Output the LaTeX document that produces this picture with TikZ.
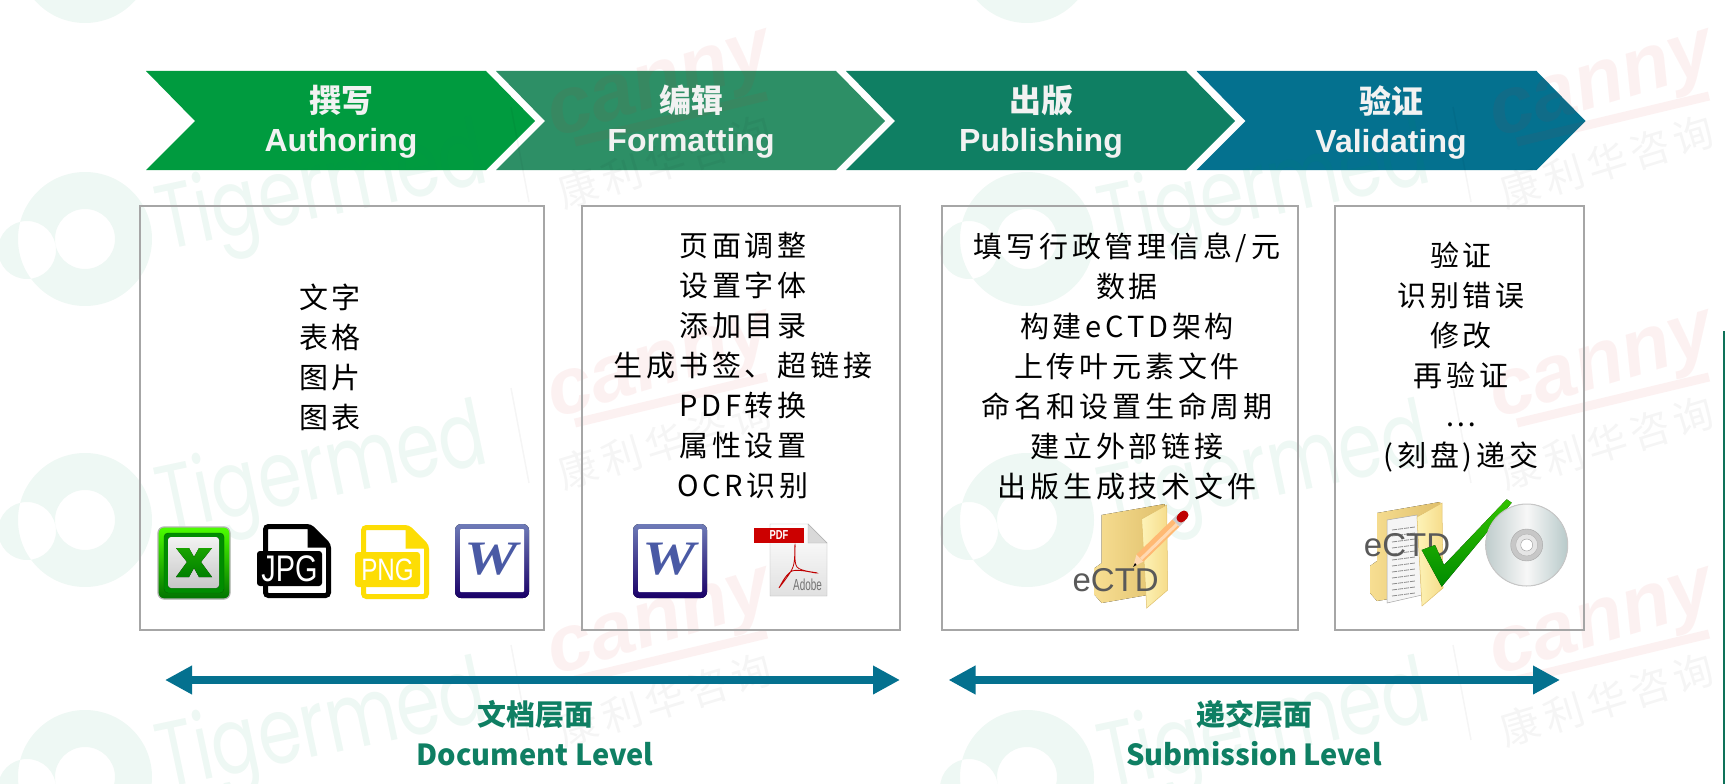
\documentclass[tikz,border=0pt]{standalone}
\usepackage{fontspec}
\setmainfont{Liberation Sans}
\newfontfamily\cjkfont[LetterSpace=13]{Noto Sans CJK SC}
\newfontfamily\cjkplain{Noto Sans CJK SC}
\newfontfamily\serifface{Liberation Serif}
\newfontfamily\markfont{Poppins}
\usetikzlibrary{arrows.meta}
\definecolor{chevA}{HTML}{009B3F}
\definecolor{chevB}{HTML}{2D8F66}
\definecolor{chevC}{HTML}{0F7F63}
\definecolor{chevD}{HTML}{04718F}
\definecolor{boxgray}{HTML}{A6A6A6}
\definecolor{wordblue}{HTML}{4A5AA5}
\definecolor{markgreen}{HTML}{00965A}
\definecolor{markred}{HTML}{DC1E1E}
\definecolor{folderL}{HTML}{F7DE92}
\definecolor{folderR}{HTML}{E0C06C}
\definecolor{doorL}{HTML}{FDF3B8}
\definecolor{doorR}{HTML}{F6DC8A}
\tikzset{%
  stagebox/.style={draw=boxgray, line width=2pt, minimum height=424pt, inner sep=0pt},
  stagetext/.style={align=center, inner sep=0pt, font=\cjkfont\fontsize{29}{40}\selectfont},
  headtext/.style={align=center, inner sep=0pt, text=white!95!black,
    font=\bfseries\fontsize{32}{39}\selectfont},
  levelarrow/.style={draw=chevD, line width=8pt,
    {Triangle[length=27pt,width=27pt]}-{Triangle[length=27pt,width=27pt]}},
  leveltext/.style={align=center, inner sep=0pt, text=chevC,
    font=\cjkplain\bfseries\fontsize{29}{40}\selectfont},
  ectdtext/.style={inner sep=0pt, text=black!65, font=\fontsize{33}{33}\selectfont},
  % one tile of the background marks
  pics/watermark/.style={code={%
      \fill[markgreen, opacity=.065, even odd rule]
        (0,0) circle[radius=67] (0,0) circle[radius=30] (-58,11) circle[radius=29];
      \node[rotate=12, opacity=.065, text=markgreen, inner sep=0pt,
        font=\markfont\fontsize{92}{92}\selectfont] (tiger) at (238,-45) {\scalebox{.76}[1]{Tigermed}};
      \draw[black, opacity=.04, line width=1.5pt] (426,-132) -- (444,-37);
      \node[rotate=17, opacity=.06, text=markred, inner sep=0pt,
        font=\bfseries\itshape\fontsize{80}{80}\selectfont] (canny) at (577,-148) {canny};
      \draw[markred, opacity=.06, line width=9pt] (490,-97) -- (682,-143);
      \node[rotate=17, opacity=.04, text=black, inner sep=0pt,
        font=\cjkfont\fontsize{40}{40}\selectfont] (kangli) at (580,-77) {康利华咨询};
    }
  },
  pics/excel icon/.style={code={%
      \draw[draw=black!30, line width=1.2pt, rounded corners=6pt, top color=green!70!yellow, bottom color=green!45!black]
        (0,0) rectangle (72,72);
      \draw[draw=green!40!black, rounded corners=4pt, fill=green!55!black] (6,6) rectangle (66,66);
      \fill[rounded corners=3pt, top color=black!5, bottom color=black!22] (10,10) rectangle (61,61);
      \fill[top color=green!60!black!90!yellow, bottom color=green!50!black]
        (18,21) -- (31,21) -- (36,30) -- (41,21) -- (54,21) -- (43,35) -- (54,50)
        -- (41,50) -- (36,41) -- (31,50) -- (18,50) -- (29,35) -- cycle;
    }
  },
  pics/file tag/.style n args={3}{code={%
      \draw[#1, fill=white, line width=5pt, rounded corners=3pt]
        (8.5,2.5) -- (53,2.5) -- (71.5,21) -- (71.5,71.5) -- (8.5,71.5) -- cycle;
      \fill[#1] (50.5,2.5) -- (53,2.5) -- (71.5,21) -- (71.5,23.5) -- (50.5,23.5) -- cycle;
      \fill[#1, rounded corners=3pt] (0,27) rectangle (65,62);
      \node[text=white, inner sep=0pt, font=\fontsize{#3}{#3}\selectfont] (label) at (32.5,44.5)
        {\scalebox{.78}[1]{#2}};
    }
  },
  pics/word icon/.style={code={%
      \fill[rounded corners=6pt, top color=wordblue!80!white, bottom color=blue!45!black!90!red]
        (0,0) rectangle (74,74);
      \fill[white, rounded corners=1pt] (5,5) rectangle (69,68);
      \node[text=wordblue, inner sep=0pt, font=\serifface\bfseries\itshape\fontsize{48}{48}\selectfont]
        (letter) at (36,35) {\scalebox{1.25}[1]{W}};
    }
  },
  pics/pdf icon/.style={code={%
      \draw[draw=black!30, top color=white, bottom color=black!12]
        (16,0) -- (54,0) -- (73,19) -- (73,72) -- (16,72) -- cycle;
      \draw[draw=black!30, fill=black!15] (54,0) -- (54,19) -- (73,19) -- cycle;
      \fill[red!80!black] (0,4) rectangle (50,19);
      \node[text=white, inner sep=0pt, font=\bfseries\fontsize{13}{13}\selectfont] (banner) at (25,11.5)
        {\scalebox{.72}[1]{PDF}};
      \draw[red!75!black, line width=.8pt] plot[smooth cycle, tension=.6]
        coordinates {(41,21) (39,43) (25,64) (38,47) (63,49) (43,43)};
      \node[text=black!55, inner sep=0pt, font=\fontsize{16}{16}\selectfont] (adobe) at (53.5,61)
        {\scalebox{.62}[1]{Adobe}};
    }
  },
  pics/folder back/.style={code={%
      \fill[left color=folderL, right color=folderR]
        (0,0) -- (63,-11) -- (63,77) -- (0,88) -- (-7,80) -- (-7,53) -- (0,48) -- cycle;
    }
  },
  pics/folder door/.style={code={%
      \draw[draw=folderR, line width=.5pt, left color=doorL, right color=doorR]
        (40,4) -- (65,-10) -- (66,75) -- (45,93) -- cycle;
    }
  },
}
\begin{document}
\begin{tikzpicture}[x=1pt,y=-1pt]
  \useasboundingbox[fill=white] (0,0) rectangle (1725,784);
  \foreach \sx/\col in {146/chevA,496/chevB,846/chevC,1196.5/chevD} {
    \fill[\col] (\sx,71) -- ++(340,0) -- ++(49,50) -- ++(-49,49) -- ++(-340,0) -- ++(49,-49) -- cycle;
  }
  \begin{scope}
    \clip (0,0) rectangle (1725,784);
    \foreach \wx in {85,1027} {
      \foreach \wy in {-44,239,520,777} {
        \path (\wx,\wy) pic {watermark};
      }
    }
  \end{scope}
  \fill[chevC!90!black] (1722.5,331) rectangle (1725,784);
  % headers of the four stages
  \node[headtext] (stepA) at (341,122) {{\cjkplain 撰写}\\Authoring};
  \node[headtext] (stepB) at (691,122) {{\cjkplain 编辑}\\Formatting};
  \node[headtext] (stepC) at (1041,122) {{\cjkplain 出版}\\Publishing};
  \node[headtext] (stepD) at (1391,122) {{\cjkplain 验证}\\Validating};
  % boxes below the headers
  \foreach \boxname/\cx/\bw in {boxA/342/404,boxB/740.5/318,boxC/1120/356.5,boxD/1459.5/249} {
    \node[stagebox, minimum width=\bw pt] (\boxname) at (\cx,418) {};
  }
  \node[stagetext] (listA) at (330,357.5) {文字\\表格\\图片\\图表};
  \node[stagetext] (listB) at (743,366) {页面调整\\设置字体\\添加目录\\生成书签、超链接\\PDF转换\\属性设置\\OCR识别};
  \node[stagetext] (listC) at (1127,366) {填写行政管理信息/元\\数据\\构建eCTD架构\\上传叶元素文件\\命名和设置生命周期\\建立外部链接\\出版生成技术文件};
  \node[stagetext] (listD) at (1461,357) {验证\\识别错误\\修改\\再验证\\…\\(刻盘)递交};
  % icons of the first two boxes
  \path (158,527) pic (excel) {excel icon};
  \path (257,524) pic (jpg) {file tag={black}{JPG}{37}};
  \path (355,525) pic (png) {file tag={yellow!80!orange}{PNG}{31}};
  \path (455,524) pic (wordA) {word icon};
  \path (633,524) pic (wordB) {word icon};
  \path (754,524) pic (pdf) {pdf icon};
  % folder with pencil
  \path (1101.7,515) pic {folder back};
  \path (1101.7,515) pic {folder door};
  \fill[orange!30!white] (1133,567) -- (1143.5,561.5) -- (1136.5,554.5) -- cycle;
  \fill[black] (1133,567) -- (1136.5,565) -- (1135,563) -- cycle;
  \draw[line width=10pt, orange!55!white] (1140,558) -- (1176,523);
  \draw[line width=3pt, orange!30!white] (1141,559) -- (1177,524);
  \draw[line width=10pt, black!20] (1176,523) -- (1181,518);
  \draw[line width=9pt, red!75!black, line cap=round] (1181,518) -- (1184,515);
  \node[ectdtext] (ectdA) at (1115.7,580) {eCTD};
  % folder with paper, check mark and disc
  \path (1377,513) pic {folder back};
  \draw[black!35, line width=.5pt, fill=black!4] (1387,520) -- (1417,515) -- (1422,595) -- (1387,603) -- cycle;
  \foreach \ly in {530,536,...,596} {
    \draw[black!45, line width=.8pt, dash pattern=on 5pt off 1pt] (1392,\ly) -- (1415,\ly-3);
  }
  \path (1377,513) pic {folder door};
  \node[ectdtext] (ectdB) at (1407,545) {eCTD};
  \fill[top color=green!70!black!80!yellow, bottom color=green!55!black]
    (1421.7,550) -- (1435,545) -- (1444,565) -- (1506.7,499.3) -- (1511.7,502.7) -- (1441.7,586.7) -- cycle;
  \coordinate (disc) at (1526.7,545);
  \fill[shading angle=45, left color=cyan!20!black!25, right color=cyan!25!black!28, middle color=black!3]
    (disc) circle[radius=41];
  \draw[black!22, line width=1pt] (disc) circle[radius=41];
  \draw[black!35, fill=black!22] (disc) circle[radius=16];
  \draw[black!30, fill=black!10] (disc) circle[radius=11];
  \draw[black!40, fill=white] (disc) circle[radius=6];
  % level arrows and labels
  \coordinate (docL) at (165,680);
  \coordinate (docR) at (900,680);
  \coordinate (subL) at (948.5,680);
  \coordinate (subR) at (1560,680);
  \draw[levelarrow] (docL) -- (docR);
  \draw[levelarrow] (subL) -- (subR);
  \node[leveltext] (levelA) at (535,733) {文档层面\\Document Level};
  \node[leveltext] (levelB) at (1254,733) {递交层面\\Submission Level};
\end{tikzpicture}
\end{document}
